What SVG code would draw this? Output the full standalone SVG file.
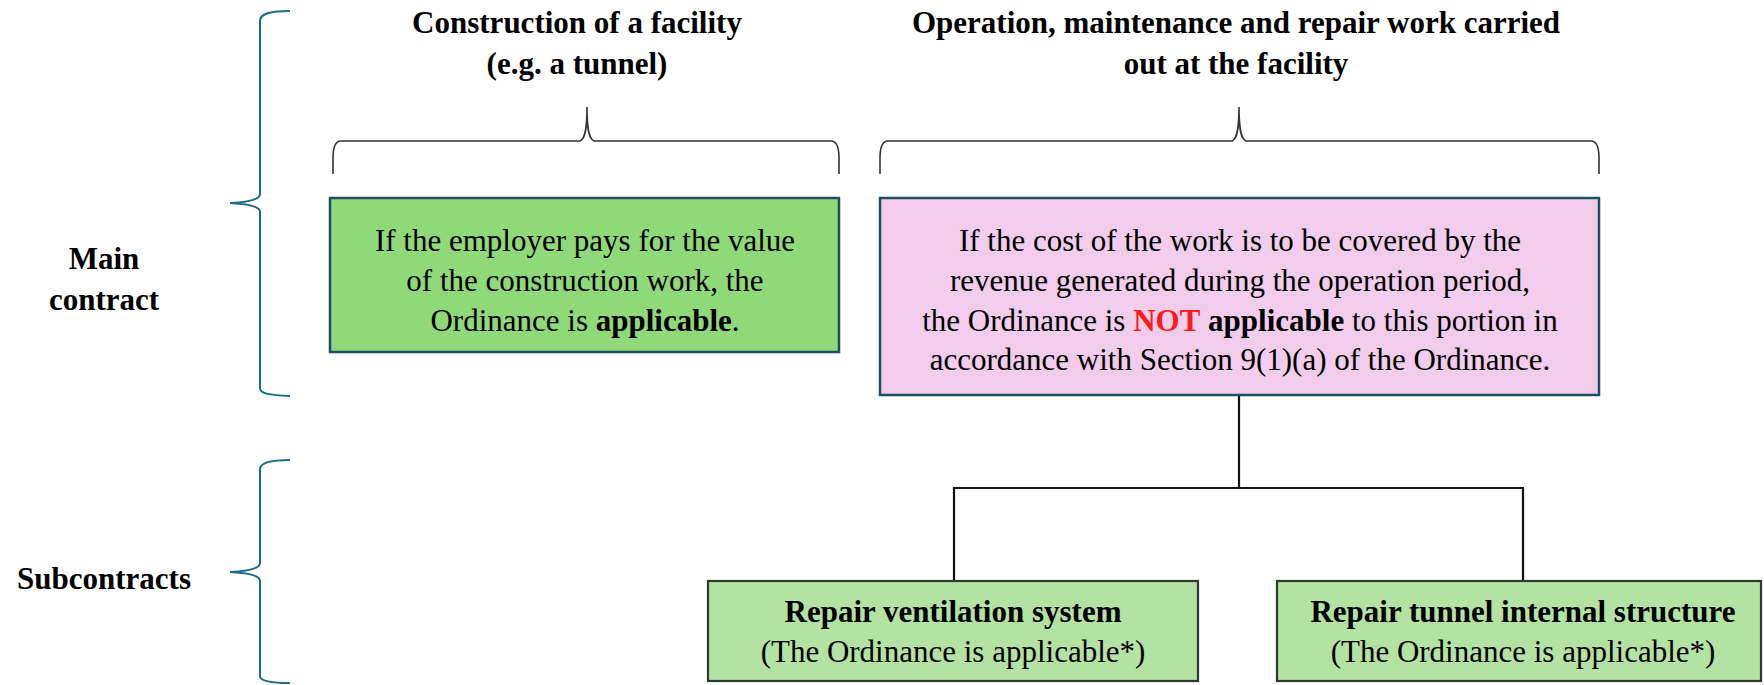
<svg xmlns="http://www.w3.org/2000/svg" width="1764" height="685" viewBox="0 0 1764 685">
<style>
text{font-family:'Liberation Serif','Times New Roman',Tinos,'Noto Serif','DejaVu Serif',serif;font-size:31px;fill:#000;text-anchor:middle}
.b{font-weight:bold}
.red{fill:#FF1A1A;font-weight:bold}
.lbrace{fill:none;stroke:#1F6A8A;stroke-width:2}
.tbrace{fill:none;stroke:#333;stroke-width:1.6}
.conn{fill:none;stroke:#111;stroke-width:2.2}
.main-green{fill:#8FD97A;stroke:#1F4E5F;stroke-width:2.5}
.main-pink{fill:#F1CDEB;stroke:#1F4E5F;stroke-width:2.5}
.sub{fill:#B3E3A3;stroke:#2E3A30;stroke-width:2.2}
</style>
<rect width="1764" height="685" fill="#fff"/>

<g id="label-main">
<text class="b" x="104" y="269">Main</text>
<text class="b" x="104" y="310">contract</text>
</g>
<g id="label-sub">
<text class="b" x="104" y="589">Subcontracts</text>
</g>

<g id="braces">
<path class="lbrace" d="M290,11 C272,11 260,13 260,21 L260,194 C260,199 250,202 230,203 C250,204 260,207 260,212 L260,388 C260,394 270,395 290,396"/>
<path class="lbrace" d="M290,460 C272,460 260,462 260,469 L260,563 C260,568 250,571 230,572 C250,573 260,576 260,581 L260,676 C260,681 272,683 290,683"/>
<path class="tbrace" d="M333,174 L333,158 C333,147 335,141 341,141 L580,141 C585,139 587,130 587,107 C587,130 589,139 594,141 L831,141 C837,141 839,147 839,158 L839,174"/>
<path class="tbrace" d="M880,174 L880,158 C880,147 882,141 888,141 L1232,141 C1237,139 1239,130 1239,107 C1239,130 1241,139 1246,141 L1591,141 C1597,141 1599,147 1599,158 L1599,174"/>
</g>

<g id="title-construction">
<text class="b" x="577" y="33">Construction of a facility</text>
<text class="b" x="577" y="74">(e.g. a tunnel)</text>
</g>
<g id="title-operation">
<text class="b" x="1236" y="33">Operation, maintenance and repair work carried</text>
<text class="b" x="1236" y="74">out at the facility</text>
</g>

<g id="connectors">
<path class="conn" d="M1239,395 L1239,488"/>
<path class="conn" d="M954,581 L954,488 L1523,488 L1523,581"/>
</g>

<g id="node-construction">
<rect class="main-green" x="330" y="198" width="509" height="154"/>
<text x="585" y="251">If the employer pays for the value</text>
<text x="585" y="291">of the construction work, the</text>
<text x="585" y="331">Ordinance is <tspan class="b">applicable</tspan>.</text>
</g>

<g id="node-operation">
<rect class="main-pink" x="880" y="198" width="719" height="197"/>
<text x="1240" y="251">If the cost of the work is to be covered by the</text>
<text x="1240" y="291">revenue generated during the operation period,</text>
<text x="1240" y="331">the Ordinance is <tspan class="red">NOT</tspan> <tspan class="b">applicable</tspan> to this portion in</text>
<text x="1240" y="370">accordance with Section 9(1)(a) of the Ordinance.</text>
</g>

<g id="node-ventilation">
<rect class="sub" x="708" y="581" width="490" height="100"/>
<text class="b" x="953" y="622">Repair ventilation system</text>
<text x="953" y="662">(The Ordinance is applicable*)</text>
</g>

<g id="node-structure">
<rect class="sub" x="1277" y="581" width="484" height="100"/>
<text class="b" x="1523" y="622">Repair tunnel internal structure</text>
<text x="1523" y="662">(The Ordinance is applicable*)</text>
</g>
</svg>
